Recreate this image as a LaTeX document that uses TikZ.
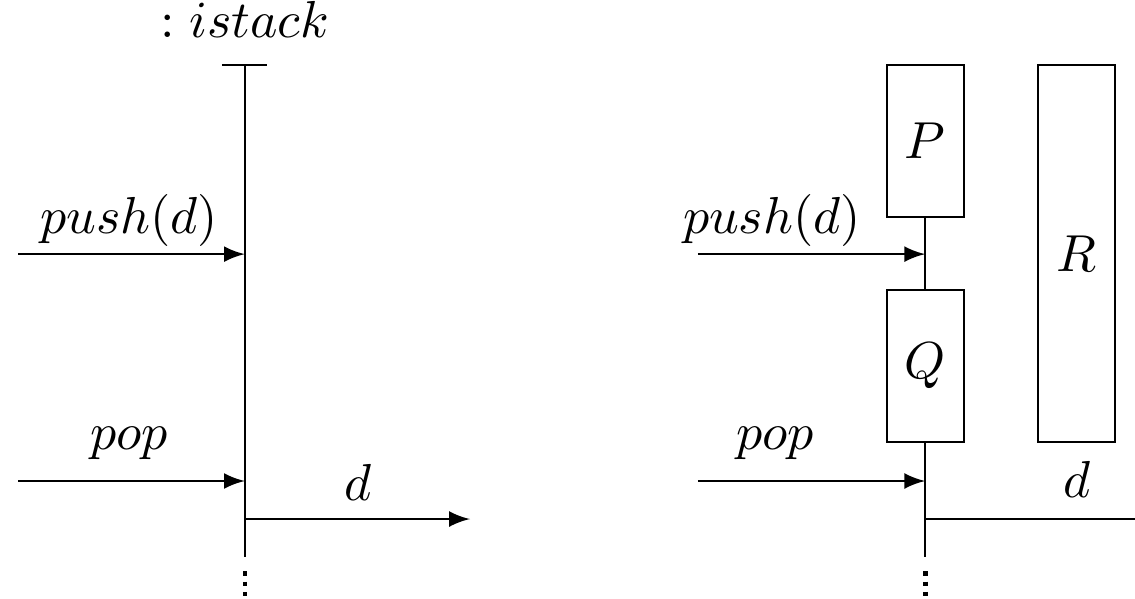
\documentclass[tikz,border=0pt]{standalone}
\usepackage{amsmath}
\usepackage{amssymb}

\begin{document}
\begin{tikzpicture}[>=latex,
    thread/.style={draw, minimum width=0.52cm, inner sep=0pt},
    msg/.style={anchor=base}]
        \useasboundingbox (0,0) rectangle (7.669,4.041);

        % Left: the stack object and its lifeline
        \node[msg] (obj) at (1.655,3.79) {$: istack$};
        \coordinate (tickL) at (1.50,3.601);
        \coordinate (tickR) at (1.804,3.601);
        \coordinate (lifeTop) at (1.655,3.601);
        \coordinate (lifeBot) at (1.655,0.277);
        \draw (tickL) -- (tickR);
        \draw (lifeTop) -- (lifeBot);
        \draw[line width=0.85pt, dash pattern=on 0.85pt off 1.15pt] (1.655,0.182) -- (1.655,0);

        % Left: calls and result
        \coordinate (pushIn) at (0.122,2.324);
        \coordinate (pushAt) at (1.655,2.324);
        \coordinate (popIn) at (0.122,0.791);
        \coordinate (popAt) at (1.655,0.791);
        \coordinate (retAt) at (1.655,0.534);
        \coordinate (retOut) at (3.176,0.534);
        \draw[->] (pushIn) -- (pushAt);
        \draw[->] (popIn) -- (popAt);
        \draw[->] (retAt) -- (retOut);
        \node[msg] (pushLbl) at (0.872,2.466) {$push(d)$};
        \node[msg] (popLbl) at (0.872,1.007) {$pop$};
        \node[msg] (retLbl) at (2.42,0.662) {$d$};

        % Right: threads P, Q and R
        \node[thread, minimum height=1.027cm] (P) at (6.252,3.088) {$P$};
        \node[thread, minimum height=1.027cm] (Q) at (6.252,1.568) {$Q$};
        \node[thread, minimum height=2.547cm] (R) at (7.274,2.328) {$R$};
        \coordinate (rBot) at (6.252,0.277);
        \draw (P.south) -- (Q.north);
        \draw (Q.south) -- (rBot);
        \draw[line width=0.85pt, dash pattern=on 0.85pt off 1.15pt] (6.252,0.182) -- (6.252,0);

        % Right: calls and result
        \coordinate (rPushIn) at (4.716,2.324);
        \coordinate (rPushAt) at (6.252,2.324);
        \coordinate (rPopIn) at (4.716,0.791);
        \coordinate (rPopAt) at (6.252,0.791);
        \coordinate (rRetAt) at (6.252,0.534);
        \coordinate (rRetOut) at (7.669,0.534);
        \draw[->] (rPushIn) -- (rPushAt);
        \draw[->] (rPopIn) -- (rPopAt);
        \draw (rRetAt) -- (rRetOut);
        \node[msg] (rPushLbl) at (5.216,2.466) {$push(d)$};
        \node[msg] (rPopLbl) at (5.236,1.007) {$pop$};
        \node[msg] (rRetLbl) at (7.277,0.68) {$d$};
\end{tikzpicture}
\end{document}
